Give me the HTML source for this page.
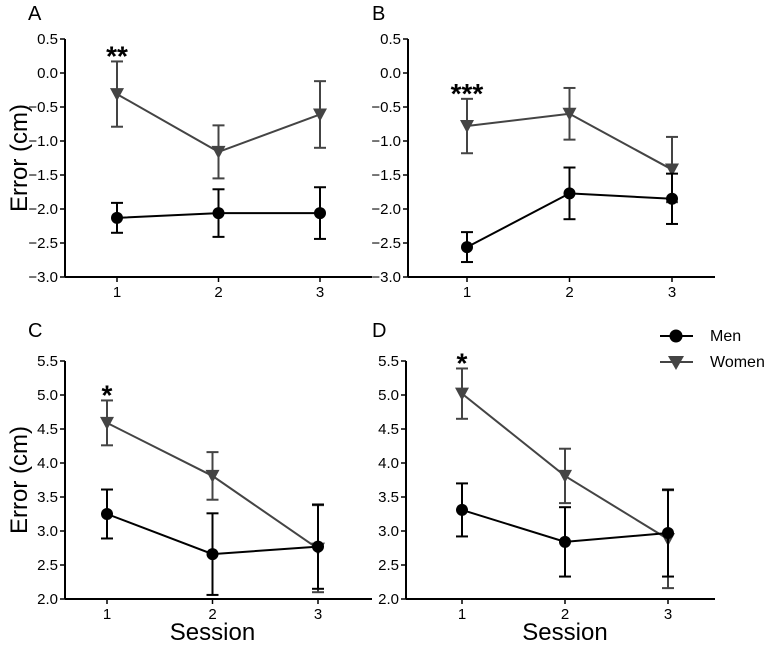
<!DOCTYPE html>
<html><head><meta charset="utf-8"><style>
html,body{margin:0;padding:0;background:#fff;}
svg{display:block;font-family:"Liberation Sans",Arial,sans-serif;}
</style></head><body>
<svg id="chart" width="767" height="647" viewBox="0 0 767 647" xmlns="http://www.w3.org/2000/svg"></svg>
<script>
const sessions = [1, 2, 3];
const menA = [-2.13, -2.06, -2.06];
const menAerr = [0.22, 0.35, 0.38];
const womenA = [-0.31, -1.16, -0.61];
const womenAerr = [0.48, 0.39, 0.49];
const menB = [-2.56, -1.77, -1.85];
const menBerr = [0.22, 0.38, 0.37];
const womenB = [-0.78, -0.60, -1.42];
const womenBerr = [0.40, 0.38, 0.48];
const menC = [3.25, 2.66, 2.77];
const menCerr = [0.36, 0.60, 0.62];
const womenC = [4.59, 3.81, 2.74];
const womenCerr = [0.33, 0.35, 0.64];
const menD = [3.31, 2.84, 2.97];
const menDerr = [0.39, 0.51, 0.64];
const womenD = [5.02, 3.81, 2.88];
const womenDerr = [0.37, 0.40, 0.72];
const ticksTop = [0.5, 0.0, -0.5, -1.0, -1.5, -2.0, -2.5, -3.0];
const ticksBottom = [5.5, 5.0, 4.5, 4.0, 3.5, 3.0, 2.5, 2.0];
const sigLabels = ["**", "***", "*", "*"];

const NS = "http://www.w3.org/2000/svg";
const svg = document.getElementById("chart");
function mk(tag, attrs, parent, name) {
  const e = document.createElementNS(NS, tag);
  for (const k in attrs) e.setAttribute(k, attrs[k]);
  
  
  (parent || svg).appendChild(e);
  return e;
}
const panels = [
  {id:"a", letter:"A", lx:28, ly:20, ax:65, x1:117, x3:320, xend:372, yt:39, yb:277, ymax:0.5, ymin:-3.0, ticks:ticksTop, men:menA, me:menAerr, wom:womenA, we:womenAerr, sig:sigLabels[0], ylab:true},
  {id:"b", letter:"B", lx:372, ly:20, ax:408, x1:467, x3:672, xend:715, yt:39, yb:277, ymax:0.5, ymin:-3.0, ticks:ticksTop, men:menB, me:menBerr, wom:womenB, we:womenBerr, sig:sigLabels[1], ylab:false},
  {id:"c", letter:"C", lx:28, ly:337, ax:65, x1:107, x3:318, xend:372, yt:361, yb:599, ymax:5.5, ymin:2.0, ticks:ticksBottom, men:menC, me:menCerr, wom:womenC, we:womenCerr, sig:sigLabels[2], ylab:true},
  {id:"d", letter:"D", lx:372, ly:337, ax:406, x1:462, x3:668, xend:715, yt:361, yb:599, ymax:5.5, ymin:2.0, ticks:ticksBottom, men:menD, me:menDerr, wom:womenD, we:womenDerr, sig:sigLabels[3], ylab:false}
];
panels.forEach(p => {
  const g = mk("g", {}, svg, "panel-" + p.id);
  const y = v => p.yb - (v - p.ymin) / (p.ymax - p.ymin) * (p.yb - p.yt);
  const x = s => p.x1 + (s - 1) / 2 * (p.x3 - p.x1);
  const t = mk("text", {x:p.lx, y:p.ly, "font-size":20, fill:"#000"}, g, "panel-label-" + p.id); t.textContent = p.letter;
  mk("line", {x1:p.ax, y1:p.yt, x2:p.ax, y2:p.yb, stroke:"#000", "stroke-width":2}, g, "y-axis-" + p.id);
  mk("line", {x1:p.ax, y1:p.yb, x2:p.xend, y2:p.yb, stroke:"#000", "stroke-width":2}, g, "x-axis-" + p.id);
  p.ticks.forEach(v => {
    mk("line", {x1:p.ax-5, y1:y(v), x2:p.ax, y2:y(v), stroke:"#000", "stroke-width":1.5}, g, "y-tick");
    const tl = mk("text", {x:p.ax-7, y:y(v)+5, "font-size":15, "text-anchor":"end", fill:"#000"}, g, "y-tick-label");
    tl.textContent = v.toFixed(1).replace("-", "\u2212");
  });
  sessions.forEach(s => {
    mk("line", {x1:x(s), y1:p.yb, x2:x(s), y2:p.yb+5, stroke:"#000", "stroke-width":1.5}, g, "x-tick");
    const tl = mk("text", {x:x(s), y:p.yb+20, "font-size":15, "text-anchor":"middle", fill:"#000"}, g, "x-tick-label");
    tl.textContent = s;
  });
  if (p.ylab) {
    const cy = (p.yt + p.yb) / 2;
    const yl = mk("text", {x:0, y:0, "font-size":24, "text-anchor":"middle", transform:`translate(27,${cy}) rotate(-90)`, fill:"#000"}, g, "y-axis-title");
    yl.textContent = "Error (cm)";
  }
  if (p.id === "c" || p.id === "d") {
    const xl = mk("text", {x:x(2), y:640, "font-size":24, "text-anchor":"middle", fill:"#000"}, g, "x-axis-title");
    xl.textContent = "Session";
  }
  function series(vals, errs, color, kind) {
    const pts = sessions.map((s, i) => x(s) + "," + y(vals[i])).join(" ");
    mk("polyline", {points:pts, fill:"none", stroke:color, "stroke-width":2}, g, kind + "-line");
    sessions.forEach((s, i) => {
      const cx = x(s), top = y(vals[i] + errs[i]), bot = y(vals[i] - errs[i]);
      mk("line", {x1:cx, y1:top, x2:cx, y2:bot, stroke:color, "stroke-width":2}, g, kind + "-error-bar");
      mk("line", {x1:cx-6, y1:top, x2:cx+6, y2:top, stroke:color, "stroke-width":2}, g, kind + "-error-cap");
      mk("line", {x1:cx-6, y1:bot, x2:cx+6, y2:bot, stroke:color, "stroke-width":2}, g, kind + "-error-cap");
      const cy = y(vals[i]);
      if (kind === "men") mk("circle", {cx:cx, cy:cy, r:6, fill:color}, g, "men-point");
      else mk("polygon", {points:`${cx-7},${cy-6} ${cx+7},${cy-6} ${cx},${cy+7}`, fill:color}, g, "women-point");
    });
  }
  series(p.wom, p.we, "#444", "women");
  series(p.men, p.me, "#000", "men");
  const st = mk("text", {x:x(1), y:y(p.wom[0] + p.we[0]) + 4, "font-size":28, "font-weight":"bold", "text-anchor":"middle", fill:"#000"}, g, "significance-marker");
  st.textContent = p.sig;
});
const lg = mk("g", {}, svg, "legend");
mk("line", {x1:660, y1:336, x2:693, y2:336, stroke:"#000", "stroke-width":2}, lg, "legend-men-line");
mk("circle", {cx:676, cy:336, r:6.5, fill:"#000"}, lg, "legend-men-marker");
const lm = mk("text", {x:710, y:341, "font-size":16, fill:"#000"}, lg, "legend-men-label"); lm.textContent = "Men";
mk("line", {x1:660, y1:362, x2:693, y2:362, stroke:"#444", "stroke-width":2}, lg, "legend-women-line");
mk("polygon", {points:"668,356 684,356 676,370", fill:"#444"}, lg, "legend-women-marker");
const lw = mk("text", {x:710, y:367, "font-size":16, fill:"#000"}, lg, "legend-women-label"); lw.textContent = "Women";
</script>
</body></html>
